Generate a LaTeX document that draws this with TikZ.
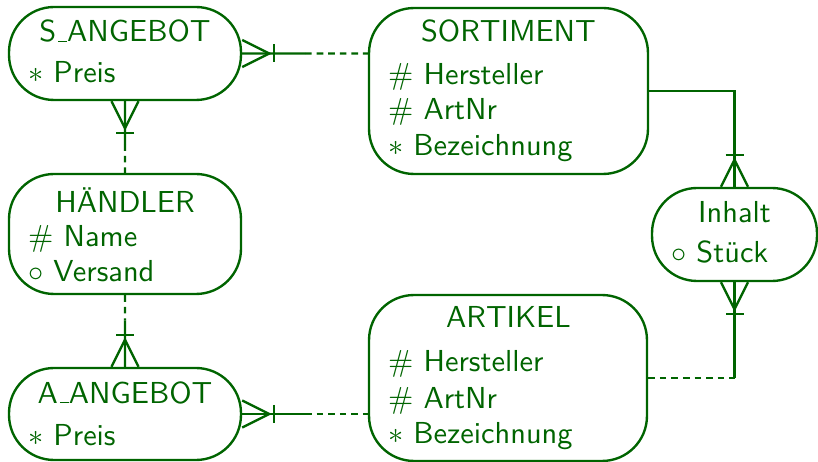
\documentclass[tikz,border=0pt]{standalone}
\usepackage{fontspec}
\newfontfamily\ersans[Extension=.otf]{lmsans10-regular}
\usetikzlibrary{calc}
\definecolor{ergreen}{RGB}{0,100,0}
\newcommand\erus{\kern.06em\rule{.3em}{.7pt}}
\tikzset{
  entity/.style={draw, rounded corners=0.9cm, inner sep=0pt},
  entname/.style={anchor=base, inner sep=0pt},
  entattr/.style={anchor=base west, inner sep=0pt},
  opt/.style={dash pattern=on 3.8pt off 2.8pt},
  crow/.pic={
    \draw (0,-13.5) -- (27,0) -- (0,13.5);
    \draw (32,-9) -- (32,9);
  }
}
\begin{document}
\begin{tikzpicture}[x=0.02cm, y=-0.02cm, line width=1.35pt, color=ergreen,
    font=\ersans\fontsize{17.28}{20.2}\selectfont]
  \useasboundingbox (0,0) rectangle (818,462);
  % entities
  \node[entity, minimum width=4.64cm, minimum height=1.86cm] (sang) at (125,53.5) {};
  \node[entity, minimum width=5.58cm, minimum height=3.32cm] (sort) at (508.5,91) {};
  \node[entity, minimum width=4.64cm, minimum height=2.40cm] (hae) at (125,234) {};
  \node[entity, minimum width=4.64cm, minimum height=1.84cm] (aang) at (125,414) {};
  \node[entity, minimum width=5.56cm, minimum height=3.32cm] (art) at (508,378) {};
  \node[entity, minimum width=3.30cm, minimum height=1.86cm] (inh) at (734.5,234.5) {};
  % names and attributes
  \node[entname] (sang-n) at (125,42) {S\erus ANGEBOT};
  \node[entattr] (sang-a1) at (27,83) {$\ast$ Preis};
  \node[entname] (sort-n) at (508.5,42) {SORTIMENT};
  \node[entattr] (sort-a1) at (387,85) {\# Hersteller};
  \node[entattr] (sort-a2) at (387,120) {\# ArtNr};
  \node[entattr] (sort-a3) at (387,156) {$\ast$ Bezeichnung};
  \node[entname] (hae-n) at (125,213) {HÄNDLER};
  \node[entattr] (hae-a1) at (27,247) {\# Name};
  \node[entattr] (hae-a2) at (27,282) {$\circ$ Versand};
  \node[entname] (aang-n) at (125,403) {A\erus ANGEBOT};
  \node[entattr] (aang-a1) at (27,445) {$\ast$ Preis};
  \node[entname] (art-n) at (508.5,328) {ARTIKEL};
  \node[entattr] (art-a1) at (387,372) {\# Hersteller};
  \node[entattr] (art-a2) at (387,408) {\# ArtNr};
  \node[entattr] (art-a3) at (387,443) {$\ast$ Bezeichnung};
  \node[entname] (inh-n) at (734.5,223) {Inhalt};
  \node[entattr] (inh-a1) at (670,263) {$\circ$ Stück};
  % relationships
  \coordinate (r1) at ($(sang.east)!.5!(sang.east -| sort.west)$);
  \draw (sang.east) -- (r1);
  \draw[opt] (r1) -- (sang.east -| sort.west);
  \pic at (sang.east) {crow};
  \coordinate (r2) at ($(sang.south)!.6!(hae.north)$);
  \draw (sang.south) -- (r2);
  \draw[opt] (r2) -- (hae.north);
  \pic[rotate=-90] at (sang.south) {crow};
  \coordinate (r3) at ($(hae.south)!.35!(aang.north)$);
  \draw[opt] (hae.south) -- (r3);
  \draw (r3) -- (aang.north);
  \pic[rotate=90] at (aang.north) {crow};
  \coordinate (r4) at ($(aang.east)!.5!(aang.east -| art.west)$);
  \draw (aang.east) -- (r4);
  \draw[opt] (r4) -- (aang.east -| art.west);
  \pic at (aang.east) {crow};
  \draw (sort.east) -| (inh.north);
  \pic[rotate=90] at (inh.north) {crow};
  \coordinate (r6) at (art.east -| inh.south);
  \draw[opt] (art.east) -- (r6);
  \draw (r6) -- (inh.south);
  \pic[rotate=-90] at (inh.south) {crow};
\end{tikzpicture}
\end{document}
